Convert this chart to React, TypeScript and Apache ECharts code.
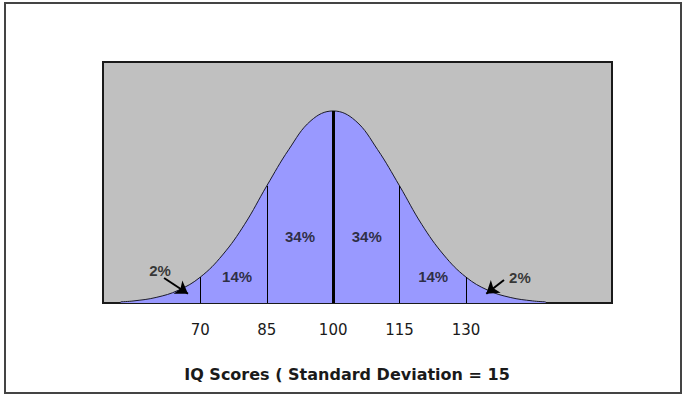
import React, { useEffect, useRef } from "react";
import * as echarts from "echarts";

// IQ score curve (x) and relative height of the bell curve (y)
const curveX = [52, 55, 60, 65, 70, 75, 80, 85, 90, 95, 100, 105, 110, 115, 120, 125, 130, 135, 140, 145, 148];
const curveY = [0.6, 1.1, 2.9, 6.6, 13.5, 25, 41, 61, 80, 95, 100, 95, 80, 61, 41, 25, 13.5, 6.6, 2.9, 1.1, 0.6];

// standard deviation boundaries and tick labels
const boundaries = [70, 85, 100, 115, 130];
const tickLabels = ["70", "85", "100", "115", "130"];

// band percentages
const bandLabels = ["2%", "14%", "34%", "34%", "14%", "2%"];
const bandLabelX = [60.9, 78.3, 92.5, 107.6, 122.6, 142.2];
const bandLabelY = [16.7, 14, 34.4, 34.4, 14, 13.5];

// arrows for the 2% tails: [fromX, fromY, toX, toY]
const arrowLeft = [61.8, 13.0, 67.2, 4.8];
const arrowRight = [138.6, 12.0, 134.6, 4.8];

const axisTitle = "IQ Scores ( Standard Deviation = 15";

function heightAt(x: number): number {
  const i = curveX.indexOf(x);
  return i >= 0 ? curveY[i] : 0;
}

export default function App() {
  const ref = useRef<HTMLDivElement>(null);
  useEffect(() => {
    if (!ref.current) return;
    const chart = echarts.init(ref.current, undefined, { renderer: "svg" });
    const curveData = curveX.map((x, i) => [x, curveY[i]]);
    const bounds = boundaries.map((b) => [
      { coord: [b, 0], lineStyle: { width: b === 100 ? 3 : 1 } },
      { coord: [b, heightAt(b)] },
    ]);
    const labelData = bandLabels.map((t, i) => ({ value: [bandLabelX[i], bandLabelY[i]], name: t }));
    chart.setOption({
      animation: false,
      grid: {
        left: 103,
        top: 62,
        width: 509,
        height: 241,
        show: true,
        backgroundColor: "#C0C0C0",
        borderColor: "#1a1a1a",
        borderWidth: 2,
      },
      xAxis: {
        type: "value",
        min: 48,
        max: 163,
        splitLine: { show: false },
        axisLine: { show: false },
        axisTick: { show: false },
        axisLabel: {
          customValues: boundaries,
          formatter: (v: number) => tickLabels[boundaries.indexOf(v)] ?? "",
          margin: 19,
          fontFamily: "DejaVu Sans, sans-serif",
          fontSize: 15,
          color: "#1a1a1a",
        },
      },
      yAxis: { type: "value", min: 0, max: 125.5, show: false },
      series: [
        {
          type: "line",
          data: curveData,
          smooth: 0.4,
          showSymbol: false,
          lineStyle: { color: "#1a1a2a", width: 1 },
          areaStyle: { color: "#9999FF", opacity: 1 },
          markLine: {
            silent: true,
            symbol: ["none", "none"],
            label: { show: false },
            lineStyle: { color: "#000", type: "solid", width: 1 },
            data: bounds,
          },
          z: 2,
        },
        {
          type: "scatter",
          data: labelData,
          symbolSize: 0,
          label: {
            show: true,
            position: "inside",
            formatter: (p: any) => p.name,
            fontFamily: "Liberation Sans, Arial, sans-serif",
            fontWeight: "bold",
            fontSize: 15,
            color: "#111",
          },
          markLine: {
            silent: true,
            symbol: ["none", "arrow"],
            symbolSize: 12,
            label: { show: false },
            lineStyle: { color: "#000", type: "solid", width: 2 },
            data: [
              [{ coord: [arrowLeft[0], arrowLeft[1]] }, { coord: [arrowLeft[2], arrowLeft[3]] }],
              [{ coord: [arrowRight[0], arrowRight[1]] }, { coord: [arrowRight[2], arrowRight[3]] }],
            ],
          },
          z: 3,
        },
      ],
      graphic: [
        {
          type: "rect",
          shape: { x: 5, y: 3, width: 676, height: 390 },
          style: { fill: "none", stroke: "#444", lineWidth: 2 },
          silent: true,
        },
        {
          type: "text",
          x: 347,
          y: 374,
          style: {
            text: axisTitle,
            fontFamily: "DejaVu Sans, sans-serif",
            fontWeight: "bold",
            fontSize: 16,
            fill: "#1a1a1a",
            textAlign: "center",
            textVerticalAlign: "middle",
          },
        },
      ],
    });
    return () => chart.dispose();
  }, []);
  return (
    <div
      ref={ref}
      style={{ position: "fixed", left: 0, top: 0, width: 684, height: 397, background: "#fff" }}
    />
  );
}
